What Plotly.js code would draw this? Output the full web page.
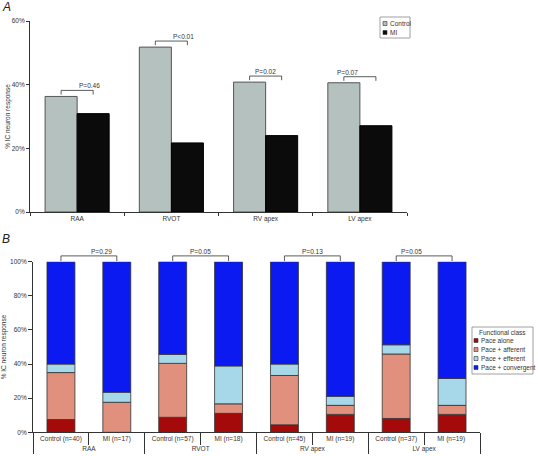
<!DOCTYPE html>
<html><head><meta charset="utf-8">
<script src="https://cdn.plot.ly/plotly-3.0.1.min.js"></script>
<style>html,body{margin:0;padding:0;background:#fff}#chart{width:538px;height:456px}</style>
</head><body><div id="chart"></div>
<script>
// Panel A data
var categoriesA = ['RAA', 'RVOT', 'RV apex', 'LV apex'];
var controlA = [36.3, 51.8, 40.8, 40.6];
var miA = [30.9, 21.7, 24.0, 27.1];
var pValuesA = ['P=0.46', 'P<0.01', 'P=0.02', 'P=0.07'];
var seriesNamesA = ['Control', 'MI'];

// Panel B data
var groupsB = ['RAA', 'RAA', 'RVOT', 'RVOT', 'RV apex', 'RV apex', 'LV apex', 'LV apex'];
var labelsB = ['Control (n=40)', 'MI (n=17)', 'Control (n=57)', 'MI (n=18)', 'Control (n=45)', 'MI (n=19)', 'Control (n=37)', 'MI (n=19) '];
var paceAlone = [7.5, 0, 8.8, 11.1, 4.4, 10.5, 8.1, 10.5];
var paceAfferent = [27.5, 17.6, 31.6, 5.6, 28.9, 5.3, 37.8, 5.3];
var paceEfferent = [5.0, 5.9, 5.3, 22.2, 6.7, 5.3, 5.4, 15.8];
var paceConvergent = [60.0, 76.5, 54.4, 61.1, 60.0, 78.9, 48.6, 68.4];
var classNamesB = ['Pace alone', 'Pace + afferent', 'Pace + efferent', 'Pace + convergent'];
var pValuesB = ['P=0.29', 'P=0.05', 'P=0.13', 'P=0.05'];

var W = 538, H = 456;
var FONT = 'Liberation Sans, Arial, sans-serif';
var colorsA = ['#b5c1be', '#0b0b0b'];
var outlineA = ['#555555', '#000000'];
var colorsB = ['#a50a0a', '#e0907d', '#a6d8ea', '#0a1af0'];

function px(x) { return x / W; }
function py(y) { return 1 - y / H; }

var domAx = [px(30), px(407)], domAy = [py(212), py(21)];
var domBx = [px(33), px(480)], domBy = [py(432.3), py(261.7)];
var rangeA = [0, 60], rangeB = [0, 100];
var barW = 0.34;

function paperYA(v) { return domAy[0] + (v - rangeA[0]) / (rangeA[1] - rangeA[0]) * (domAy[1] - domAy[0]); }
function paperYB(v) { return domBy[0] + (v - rangeB[0]) / (rangeB[1] - rangeB[0]) * (domBy[1] - domBy[0]); }
function paperXA(pos) { return domAx[0] + (pos + 0.5) / categoriesA.length * (domAx[1] - domAx[0]); }
function paperXB(pos) { return domBx[0] + (pos + 0.5) / labelsB.length * (domBx[1] - domBx[0]); }

var traces = [];
traces.push({type: 'bar', x: categoriesA, y: controlA, name: seriesNamesA[0], offset: -barW, width: barW,
  marker: {color: colorsA[0], line: {color: outlineA[0], width: 1}}, xaxis: 'x', yaxis: 'y', showlegend: false});
traces.push({type: 'bar', x: categoriesA, y: miA, name: seriesNamesA[1], offset: 0, width: barW,
  marker: {color: colorsA[1], line: {color: outlineA[1], width: 1}}, xaxis: 'x', yaxis: 'y', showlegend: false});

var seriesB = [paceAlone, paceAfferent, paceEfferent, paceConvergent];
var base = labelsB.map(function () { return 0; });
seriesB.forEach(function (vals, k) {
  traces.push({type: 'bar', x: [groupsB, labelsB], y: vals, base: base.slice(), name: classNamesB[k], width: 0.5,
    marker: {color: colorsB[k], line: {color: '#333333', width: 0.8}}, xaxis: 'x2', yaxis: 'y2', showlegend: false});
  base = base.map(function (b, i) { return b + vals[i]; });
});

var shapes = [], annotations = [];
var lineStyle = {color: '#333333', width: 0.8};
// Panel A brackets
categoriesA.forEach(function (c, i) {
  var top = Math.max(controlA[i], miA[i]);
  var yl = paperYA(top + 1.9), yt = paperYA(top + 0.6);
  var x0 = paperXA(i - barW / 2), x1 = paperXA(i + barW / 2);
  shapes.push({type: 'path', xref: 'paper', yref: 'paper', path: 'M' + x0 + ',' + yt + ' L' + x0 + ',' + yl + ' L' + x1 + ',' + yl + ' L' + x1 + ',' + yt, line: lineStyle});
  annotations.push({xref: 'paper', yref: 'paper', x: (x0 + x1) / 2, y: yl, yanchor: 'bottom', yshift: -1, text: pValuesA[i], showarrow: false, font: {family: FONT, size: 6.5, color: '#333'}});
});
// Panel B brackets
pValuesB.forEach(function (p, g) {
  var yl = paperYB(103.4), yt = paperYB(100.4);
  var x0 = paperXB(2 * g), x1 = paperXB(2 * g + 1);
  shapes.push({type: 'path', xref: 'paper', yref: 'paper', path: 'M' + x0 + ',' + yt + ' L' + x0 + ',' + yl + ' L' + x1 + ',' + yl + ' L' + x1 + ',' + yt, line: lineStyle});
  annotations.push({xref: 'paper', yref: 'paper', x: (x0 + x1) / 2, y: yl, yanchor: 'bottom', yshift: -1, text: p, showarrow: false, font: {family: FONT, size: 6.5, color: '#333'}});
});

// Panel labels
annotations.push({xref: 'paper', yref: 'paper', x: px(0), y: py(-2), xanchor: 'left', yanchor: 'top', text: '<i>A</i>', showarrow: false, font: {family: FONT, size: 12, color: '#222'}});
annotations.push({xref: 'paper', yref: 'paper', x: px(0), y: py(230), xanchor: 'left', yanchor: 'top', text: '<i>B</i>', showarrow: false, font: {family: FONT, size: 12, color: '#222'}});

// Legend A (custom)
shapes.push({type: 'rect', xref: 'paper', yref: 'paper', x0: px(380), x1: px(410), y0: py(38), y1: py(17), line: {color: '#888', width: 0.8}, fillcolor: 'rgba(0,0,0,0)'});
seriesNamesA.forEach(function (n, k) {
  var yc = 23.5 + k * 9;
  shapes.push({type: 'rect', xref: 'paper', yref: 'paper', x0: px(383), x1: px(387), y0: py(yc + 2), y1: py(yc - 2), line: {color: '#333', width: 0.6}, fillcolor: colorsA[k]});
  annotations.push({xref: 'paper', yref: 'paper', x: px(388), y: py(yc), xanchor: 'left', yanchor: 'middle', text: n, showarrow: false, font: {family: FONT, size: 6.5, color: '#333'}});
});
// Legend B (custom)
shapes.push({type: 'rect', xref: 'paper', yref: 'paper', x0: px(472), x1: px(533), y0: py(374), y1: py(327), line: {color: '#888', width: 0.8}, fillcolor: 'rgba(0,0,0,0)'});
annotations.push({xref: 'paper', yref: 'paper', x: px(502.5), y: py(332), xanchor: 'center', yanchor: 'middle', text: 'Functional class', showarrow: false, font: {family: FONT, size: 6.5, color: '#333'}});
classNamesB.forEach(function (n, k) {
  var yc = 340.5 + k * 9;
  shapes.push({type: 'rect', xref: 'paper', yref: 'paper', x0: px(474), x1: px(478), y0: py(yc + 2), y1: py(yc - 2), line: {color: '#333', width: 0.6}, fillcolor: colorsB[k]});
  annotations.push({xref: 'paper', yref: 'paper', x: px(479), y: py(yc), xanchor: 'left', yanchor: 'middle', text: n, showarrow: false, font: {family: FONT, size: 6.5, color: '#333'}});
});

var tickFont = {family: FONT, size: 6.5, color: '#333'};
var layout = {
  width: W, height: H,
  margin: {l: 0, r: 0, t: 0, b: 0},
  paper_bgcolor: '#fff', plot_bgcolor: '#fff',
  barmode: 'overlay',
  font: {family: FONT, size: 6.5, color: '#333'},
  showlegend: false,
  xaxis: {domain: domAx, anchor: 'y', type: 'category', range: [-0.5, 3.5], showline: true, linecolor: '#333', linewidth: 1,
    ticks: 'outside', tickson: 'boundaries', ticklen: 3, tickcolor: '#333', tickfont: tickFont, showgrid: false, zeroline: false, fixedrange: true},
  yaxis: {domain: domAy, anchor: 'x', range: rangeA, dtick: 20, ticksuffix: '%', showline: true, linecolor: '#333', linewidth: 1,
    ticks: 'outside', ticklen: 3, tickcolor: '#333', tickfont: tickFont, showgrid: false, zeroline: false,
    title: {text: '% IC neuron response', font: {family: FONT, size: 6.5, color: '#333'}, standoff: 0}},
  xaxis2: {domain: domBx, anchor: 'y2', type: 'multicategory', range: [-0.5, 7.5], showline: true, linecolor: '#333', linewidth: 1,
    ticks: 'outside', ticklen: 12, tickcolor: '#333', tickfont: tickFont, showgrid: false, zeroline: false,
    showdividers: true, dividercolor: '#333', dividerwidth: 1},
  yaxis2: {domain: domBy, anchor: 'x2', range: rangeB, dtick: 20, ticksuffix: '%', showline: true, linecolor: '#333', linewidth: 1,
    ticks: 'outside', ticklen: 4, tickcolor: '#333', tickfont: tickFont, showgrid: false, zeroline: false,
    title: {text: '% IC neuron response', font: {family: FONT, size: 6.5, color: '#333'}, standoff: 6}},
  shapes: shapes,
  annotations: annotations
};

Plotly.newPlot('chart', traces, layout, {displayModeBar: false, staticPlot: true});
</script>
</body></html>
